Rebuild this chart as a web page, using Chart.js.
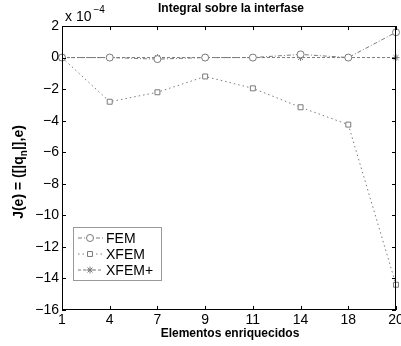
<!DOCTYPE html>
<html>
<head>
<meta charset="utf-8">
<script src="https://cdn.jsdelivr.net/npm/chart.js@4"></script>
<style>
  html, body { margin: 0; padding: 0; background: #fff; }
  #wrap { width: 401px; height: 346px; }
</style>
</head>
<body>
<div id="wrap"><canvas id="chart-integral" width="401" height="346"></canvas></div>
<script>
// Number of enriched elements on the x axis
const elementos = ['1', '4', '7', '9', '11', '14', '18', '20'];

// J(e) values, in units of 1e-4
const femValues = [0, 0, -0.1, 0, 0, 0.2, 0, 1.6];
const xfemValues = [0, -2.8, -2.2, -1.2, -1.95, -3.15, -4.25, -14.4];
const xfemPlusValues = [0, 0, 0, 0, 0, 0, 0, 0];

const yTicks = [2, 0, -2, -4, -6, -8, -10, -12, -14, -16];
const escala = 1e-4;

const FONT = '"Liberation Sans", Arial, Helvetica, sans-serif';
const GREY = '#7a7a7a';

const series = [
    { label: 'FEM', data: femValues, pointStyle: 'circle', dash: [4, 2, 1, 2] },
    { label: 'XFEM', data: xfemValues, pointStyle: 'rect', dash: [1.5, 3] },
    { label: 'XFEM+', data: xfemPlusValues, pointStyle: 'star', dash: [3, 2] }
];

// Box, inward ticks, legend and all the text, drawn MATLAB style
const matlabFrame = {
    id: 'matlabFrame',
    afterDraw(chart) {
        const ctx = chart.ctx;
        const a = chart.chartArea;
        const xs = chart.scales.x;
        const ys = chart.scales.y;
        ctx.save();

        // axes box
        ctx.strokeStyle = '#000';
        ctx.lineWidth = 1;
        ctx.strokeRect(a.left + 0.5, a.top + 0.5, a.right - a.left - 1, a.bottom - a.top - 1);

        // inward tick marks
        ctx.beginPath();
        elementos.forEach((e, i) => {
            const x = Math.round(xs.getPixelForValue(i)) + 0.5;
            ctx.moveTo(x, a.bottom); ctx.lineTo(x, a.bottom - 4);
            ctx.moveTo(x, a.top); ctx.lineTo(x, a.top + 4);
        });
        yTicks.forEach(t => {
            const y = Math.round(ys.getPixelForValue(t * escala)) + 0.5;
            ctx.moveTo(a.left, y); ctx.lineTo(a.left + 4, y);
            ctx.moveTo(a.right, y); ctx.lineTo(a.right - 4, y);
        });
        ctx.stroke();

        // tick labels
        ctx.fillStyle = '#000';
        ctx.font = '14px ' + FONT;
        ctx.textAlign = 'right';
        ctx.textBaseline = 'middle';
        yTicks.forEach(t => {
            const y = ys.getPixelForValue(t * escala);
            ctx.fillText(String(t).replace('-', '\u2212'), a.left - 3, y);
        });
        ctx.textAlign = 'center';
        ctx.textBaseline = 'top';
        elementos.forEach((e, i) => {
            ctx.fillText(e, xs.getPixelForValue(i), a.bottom + 3);
        });

        // exponent label
        ctx.textAlign = 'left';
        ctx.textBaseline = 'alphabetic';
        ctx.fillText('x 10', a.left + 3, 21);
        const w = ctx.measureText('x 10').width;
        ctx.font = '10px ' + FONT;
        ctx.fillText('\u22124', a.left + 5 + w, 13);

        // title and x label
        ctx.font = 'bold 12px ' + FONT;
        ctx.textAlign = 'center';
        ctx.fillText('Integral sobre la interfase', 231, 12);
        ctx.fillText('Elementos enriquecidos', 230, 337);

        // y label with subscript, rotated
        ctx.translate(19, 172);
        ctx.rotate(-Math.PI / 2);
        const parts = [
            { t: 'J(e) = ([|q', f: 'bold 14px ' + FONT, dy: 0 },
            { t: 'n', f: 'bold 10px ' + FONT, dy: 5 },
            { t: '|],e)', f: 'bold 14px ' + FONT, dy: 0 }
        ];
        let total = 0;
        parts.forEach(p => { ctx.font = p.f; total += ctx.measureText(p.t).width; });
        let px = -total / 2;
        ctx.textAlign = 'left';
        ctx.textBaseline = 'middle';
        parts.forEach(p => {
            ctx.font = p.f;
            ctx.fillText(p.t, px, p.dy);
            px += ctx.measureText(p.t).width;
        });
        ctx.setTransform(1, 0, 0, 1, 0, 0);

        // legend box
        const lx = 73, ly = 227, lw = 88, lh = 53;
        ctx.fillStyle = '#fff';
        ctx.fillRect(lx, ly, lw, lh);
        ctx.strokeStyle = '#333';
        ctx.setLineDash([1, 1]);
        ctx.strokeRect(lx + 0.5, ly + 0.5, lw, lh);
        series.forEach((s, i) => {
            const y = ly + 11 + i * 16;
            ctx.strokeStyle = GREY;
            ctx.setLineDash(s.dash);
            ctx.beginPath();
            ctx.moveTo(lx + 5, y);
            ctx.lineTo(lx + 30, y);
            ctx.stroke();
            ctx.setLineDash([]);
            ctx.fillStyle = '#fff';
            ctx.strokeStyle = GREY;
            Chart.helpers.drawPoint(ctx, {
                pointStyle: s.pointStyle, radius: 3.5, borderWidth: 1
            }, lx + 17, y);
            ctx.fillStyle = '#000';
            ctx.font = '14px ' + FONT;
            ctx.textAlign = 'left';
            ctx.fillText(s.label, lx + 33, y + 1);
        });
        ctx.restore();
    }
};

new Chart(document.getElementById('chart-integral'), {
    type: 'line',
    data: {
        labels: elementos,
        datasets: series.map(s => ({
            label: s.label,
            data: s.data.map(v => v * escala),
            borderColor: GREY,
            backgroundColor: 'rgba(0,0,0,0)',
            borderWidth: 1,
            borderDash: s.dash,
            pointStyle: s.pointStyle,
            pointRadius: 3.5,
            pointBorderColor: GREY,
            pointBackgroundColor: '#fff',
            pointBorderWidth: 1,
            tension: 0,
            clip: false
        }))
    },
    options: {
        responsive: false,
        animation: false,
        devicePixelRatio: 1,
        layout: { padding: { top: 26, right: 3, left: 0, bottom: 0 } },
        plugins: {
            legend: { display: false },
            title: { display: false },
            tooltip: { enabled: false }
        },
        scales: {
            x: {
                type: 'category',
                offset: false,
                grid: { display: false, drawTicks: false },
                border: { display: false },
                ticks: { display: false },
                afterFit(scale) { scale.height = 36; }
            },
            y: {
                min: -16 * escala,
                max: 2 * escala,
                grid: { display: false, drawTicks: false },
                border: { display: false },
                ticks: { display: false, stepSize: 2 * escala },
                afterFit(scale) { scale.width = 62; }
            }
        }
    },
    plugins: [matlabFrame]
});
</script>
</body>
</html>
